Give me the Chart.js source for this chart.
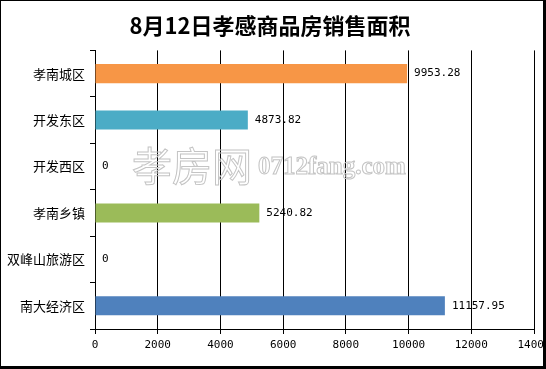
<!DOCTYPE html>
<html>
<head>
<meta charset="utf-8">
<script src="https://cdn.jsdelivr.net/npm/chart.js@4.4.1/dist/chart.umd.min.js"></script>
<style>
  body { margin: 0; background: #fff; }
  #wrap { position: relative; width: 546px; height: 369px; overflow: hidden; background: #fff; }
  #chart { position: absolute; left: 0; top: 0; }
  #frame {
    position: absolute; left: 0; top: 0; width: 546px; height: 369px; box-sizing: border-box;
    border-left: 1px solid #000; border-top: 1px solid #000;
    border-right: 3px solid #000; border-bottom: 3px solid #000;
    pointer-events: none;
  }
</style>
</head>
<body>
<div id="wrap">
  <canvas id="chart" width="580" height="369"></canvas>
  <div id="frame"></div>
</div>
<script>
// chart data
const titleText = '8月12日孝感商品房销售面积';
const categories = ['孝南城区', '开发东区', '开发西区', '孝南乡镇', '双峰山旅游区', '南大经济区'];
const areaValues = [9953.28, 4873.82, 0, 5240.82, 0, 11157.95];
const areaLabels = ['9953.28', '4873.82', '0', '5240.82', '0', '11157.95'];
const barColors = ['#F79646', '#4BACC6', '#4F81BD', '#9BBB59', '#4F81BD', '#4F81BD'];
const xTicks = [0, 2000, 4000, 6000, 8000, 10000, 12000, 14000];

// value labels at the end of each bar
const valueLabels = {
    id: 'valueLabels',
    afterDatasetsDraw(chart) {
        const ctx = chart.ctx;
        const meta = chart.getDatasetMeta(0);
        ctx.save();
        ctx.font = '11px "DejaVu Sans Mono"';
        ctx.fillStyle = '#000';
        ctx.textBaseline = 'middle';
        ctx.textAlign = 'left';
        meta.data.forEach((bar, i) => {
            ctx.fillText(areaLabels[i], bar.x + 7, bar.y);
        });
        ctx.restore();
    }
};

// site watermark in the middle of the picture
const watermark = {
    id: 'watermark',
    beforeDatasetsDraw(chart) {
        const ctx = chart.ctx;
        ctx.save();
        ctx.strokeStyle = '#c4c4c4';
        ctx.lineWidth = 1;
        ctx.textBaseline = 'middle';
        ctx.font = '40px "Noto Sans CJK SC"';
        ctx.strokeText('孝房网', 132, 166);
        ctx.font = 'bold 25px "Liberation Serif"';
        ctx.strokeText('0712fang.com', 258, 168);
        ctx.restore();
    }
};

const ctx = document.getElementById('chart').getContext('2d');
new Chart(ctx, {
    type: 'bar',
    data: {
        labels: categories,
        datasets: [{
            data: areaValues,
            backgroundColor: barColors,
            borderWidth: 0,
            barPercentage: 0.41,
            categoryPercentage: 1
        }]
    },
    options: {
        indexAxis: 'y',
        responsive: false,
        animation: false,
        layout: { padding: { left: 6, right: 46, top: 0, bottom: 0 } },
        plugins: {
            legend: { display: false },
            tooltip: { enabled: false },
            title: {
                display: true,
                text: titleText,
                color: '#000',
                font: { family: '"Noto Sans CJK SC"', size: 22, weight: 'bold', lineHeight: 1.2 },
                padding: { top: 12, bottom: 12 }
            }
        },
        scales: {
            x: {
                min: 0,
                max: 14000,
                afterBuildTicks(scale) {
                    scale.ticks = xTicks.map(v => ({ value: v }));
                },
                afterFit(scale) { scale.height = 40; },
                grid: { color: '#000', lineWidth: 1, tickLength: 5, drawTicks: true },
                border: { color: '#000', width: 1 },
                ticks: {
                    color: '#000',
                    padding: 5,
                    maxRotation: 0,
                    autoSkip: false,
                    font: { family: '"DejaVu Sans Mono"', size: 11 },
                    callback: (v) => String(v)
                }
            },
            y: {
                afterFit(scale) { scale.width = 89; },
                grid: { drawOnChartArea: false, color: '#000', tickLength: 5, offset: true },
                border: { color: '#000', width: 1 },
                ticks: {
                    color: '#000',
                    padding: 5,
                    font: { family: '"Noto Sans CJK SC"', size: 13 }
                }
            }
        }
    },
    plugins: [valueLabels, watermark]
});
</script>
</body>
</html>
